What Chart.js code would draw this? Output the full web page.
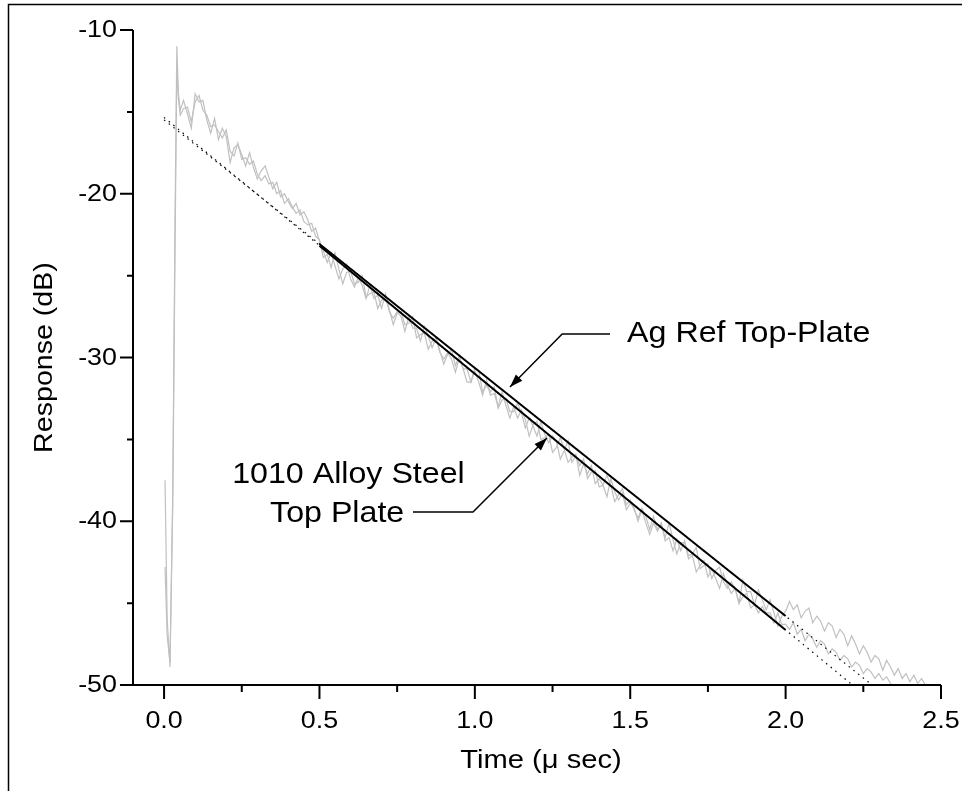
<!DOCTYPE html>
<html>
<head>
<meta charset="UTF-8">
<title>Response vs Time</title>
<script src="https://cdn.jsdelivr.net/npm/chart.js"></script>
<style>
    body { margin: 0; background: #fff; }
    #wrap { width: 962px; height: 791px; }
</style>
</head>
<body>
<div id="wrap"><canvas id="grafico" width="962" height="791"></canvas></div>
<script>
// time axis (micro seconds) shared by the two measured traces
const times = [0.003, 0.01, 0.019, 0.028, 0.035, 0.041, 0.046, 0.052,
    0.0625, 0.075, 0.0875, 0.1, 0.1125, 0.125, 0.1375, 0.15, 0.1625, 0.175, 0.1875, 0.2,
    0.2125, 0.225, 0.2375, 0.25, 0.2625, 0.275, 0.2875, 0.3, 0.3125, 0.325, 0.3375, 0.35,
    0.3625, 0.375, 0.3875, 0.4, 0.4125, 0.425, 0.4375, 0.45, 0.4625, 0.475, 0.4875, 0.5,
    0.5125, 0.525, 0.5375, 0.55, 0.5625, 0.575, 0.5875, 0.6, 0.6125, 0.625, 0.6375, 0.65,
    0.6625, 0.675, 0.6875, 0.7, 0.7125, 0.725, 0.7375, 0.75, 0.7625, 0.775, 0.7875, 0.8,
    0.8125, 0.825, 0.8375, 0.85, 0.8625, 0.875, 0.8875, 0.9, 0.9125, 0.925, 0.9375, 0.95,
    0.9625, 0.975, 0.9875, 1.0,
    1.0125, 1.025, 1.0375, 1.05, 1.0625, 1.075, 1.0875, 1.1, 1.1125, 1.125, 1.1375, 1.15,
    1.1625, 1.175, 1.1875, 1.2, 1.2125, 1.225, 1.2375, 1.25, 1.2625, 1.275, 1.2875, 1.3,
    1.3125, 1.325, 1.3375, 1.35, 1.3625, 1.375, 1.3875, 1.4, 1.4125, 1.425, 1.4375, 1.45,
    1.4625, 1.475, 1.4875, 1.5,
    1.5125, 1.525, 1.5375, 1.55, 1.5625, 1.575, 1.5875, 1.6, 1.6125, 1.625, 1.6375, 1.65,
    1.6625, 1.675, 1.6875, 1.7, 1.7125, 1.725, 1.7375, 1.75, 1.7625, 1.775, 1.7875, 1.8,
    1.8125, 1.825, 1.8375, 1.85, 1.8625, 1.875, 1.8875, 1.9, 1.9125, 1.925, 1.9375, 1.95,
    1.9625, 1.975, 1.9875, 2.0,
    2.0125, 2.025, 2.0375, 2.05, 2.0625, 2.075, 2.0875, 2.1, 2.1125, 2.125, 2.1375, 2.15,
    2.1625, 2.175, 2.1875, 2.2, 2.2125, 2.225, 2.2375, 2.25, 2.2625, 2.275, 2.2875, 2.3,
    2.3125, 2.325, 2.3375, 2.35, 2.3625, 2.375, 2.3875, 2.4, 2.4125, 2.425, 2.4375, 2.45];

// Ag reference top plate, measured (dB)
const agTrace = [-37.5, -46, -48.9, -38, -22, -11.0, -13.8, -14.9,
    -14.3, -15.1, -16.0, -13.9, -14.4, -14.3, -15.5, -16.3, -15.4, -16.7, -16.0, -16.5,
    -18.1, -17.2, -17.0, -17.6, -18.3, -17.5, -18.4, -19.1, -18.6, -18.3, -19.0, -19.7,
    -19.3, -20.2, -20.0, -20.5, -20.9, -20.6, -21.3, -21.1, -21.6, -22.3, -22.1, -22.9,
    -23.5, -24.2, -23.6, -24.4, -25.2, -24.6, -24.3, -25.2, -25.7, -25.1, -25.6, -26.4,
    -25.6, -26.4, -26.2, -27.0, -26.1, -27.1, -28.0, -27.3, -27.2, -28.0, -27.9, -27.5,
    -28.8, -28.6, -28.5, -29.5, -29.0, -28.8, -29.7, -30.1, -29.7, -30.1, -30.9, -30.0,
    -30.7, -30.7, -31.5, -30.6,
    -30.8, -32.1, -31.7, -32.1, -31.8, -33.1, -32.6, -32.5, -33.3, -33.3, -32.8, -33.4,
    -34.3, -33.7, -34.2, -34.8, -33.9, -34.7, -35.2, -34.8, -35.1, -36.2, -35.7, -35.1,
    -36.4, -36.0, -36.6, -36.2, -37.4, -37.0, -36.9, -37.9, -37.8, -37.2, -37.8, -38.8,
    -38.4, -38.0, -39.0, -38.7,
    -39.3, -39.8, -39.2, -39.7, -40.5, -39.7, -40.5, -40.2, -41.0, -40.1, -41.1, -42.0,
    -41.3, -41.3, -42.1, -42.0, -41.6, -42.9, -42.7, -42.6, -43.5, -43.0, -42.8, -43.7,
    -44.1, -43.7, -44.1, -45.0, -43.6, -44.3, -44.3, -45.1, -44.2, -44.8, -45.4, -44.8,
    -45.6, -46.4, -45.8, -45.5,
    -44.9, -45.4, -45.1, -45.9, -45.5, -45.3, -46.2, -45.8, -46.1, -46.7, -46.2, -46.4,
    -47.1, -46.6, -46.9, -47.6, -47.0, -47.5, -48.1, -47.6, -48.0, -48.6, -48.2, -48.4,
    -49.1, -48.5, -48.9, -49.4, -49.0, -49.6, -49.3, -49.8, -49.4, -49.9, -49.6, -50.0];

// 1010 alloy steel top plate, measured (dB)
const steelTrace = [-42.8, -47, -48.6, -39, -24, -12.2, -14.2, -15.2,
    -14.8, -14.7, -15.6, -14.4, -14.0, -14.9, -15.2, -15.9, -15.8, -16.2, -16.6, -16.1,
    -17.4, -17.7, -16.9, -17.9, -17.8, -18.2, -18.0, -18.8, -19.2, -18.9, -19.4, -19.3,
    -20.0, -19.8, -20.6, -20.3, -20.8, -21.2, -21.0, -21.7, -21.9, -21.8, -22.6, -22.8,
    -23.9, -23.7, -24.5, -23.6, -24.6, -25.5, -24.8, -24.7, -25.5, -25.4, -25.0, -26.3,
    -26.1, -26.0, -27.0, -26.5, -26.3, -27.2, -27.6, -27.2, -27.5, -28.4, -27.5, -28.2,
    -28.2, -29.0, -28.1, -28.7, -29.4, -28.8, -29.6, -30.4, -29.8, -29.5, -30.5, -29.9,
    -30.7, -31.5, -31.5, -30.8,
    -31.5, -32.3, -31.4, -32.3, -32.2, -33.0, -32.1, -32.9, -33.7, -33.0, -33.7, -33.2,
    -33.8, -34.8, -34.1, -33.9, -35.0, -34.9, -34.7, -35.8, -35.5, -34.9, -35.6, -36.4,
    -36.1, -35.9, -37.2, -36.5, -37.1, -36.6, -37.7, -37.4, -37.8, -38.5, -37.4, -38.2,
    -38.7, -38.3, -39.3, -38.9,
    -39.2, -40.0, -39.3, -40.1, -40.8, -40.1, -40.6, -40.1, -41.2, -41.0, -41.8, -41.1,
    -41.8, -41.2, -42.3, -42.1, -43.1, -42.7, -42.4, -43.4, -42.9, -43.5, -44.1, -43.2,
    -43.9, -44.4, -44.1, -45.0, -44.6, -44.4, -45.3, -45.1, -45.6, -45.2, -45.6, -45.6,
    -46.2, -45.6, -46.3, -46.3,
    -46.6, -46.2, -46.9, -46.6, -47.3, -46.9, -47.2, -47.7, -47.3, -47.5, -48.1, -47.8,
    -48.0, -48.5, -48.2, -48.4, -48.9, -48.6, -48.8, -49.3, -49.0, -49.2, -49.6, -49.3,
    -49.7, -49.5, -49.9, -50.1, null, null, null, null, null, null, null, null];

// linear fits (solid over the fit range, dotted extrapolation)
const agFitX = [0.5, 2.0];
const agFitY = [-23.07, -45.79];
const steelFitX = [0.5, 2.0];
const steelFitY = [-23.17, -46.64];
const agExtX = [0.0, 2.278];
const agExtY = [-15.49, -50.0];
const steelExtX = [0.0, 2.215];
const steelExtY = [-15.34, -50.0];

// axes
const xMajor = [0, 0.5, 1.0, 1.5, 2.0, 2.5];
const xLabels = ["0.0", "0.5", "1.0", "1.5", "2.0", "2.5"];
const xMinor = [0.25, 0.75, 1.25, 1.75, 2.25];
const yMajor = [-50, -40, -30, -20, -10];
const yLabels = ["-50", "-40", "-30", "-20", "-10"];
const yMinor = [-45, -35, -25, -15];

function puntos(xs, ys) {
    return xs.map((x, i) => ({ x: x, y: ys[i] }));
}

// stretched text like the original export
function texto(ctx, str, x, y, size, align, sx) {
    ctx.save();
    ctx.font = size + "px 'Liberation Sans', Arial, sans-serif";
    ctx.textAlign = align;
    ctx.translate(x, y);
    ctx.scale(sx || 1.1, 1);
    ctx.fillText(str, 0, 0);
    ctx.restore();
}

function flecha(ctx, pts) {
    ctx.beginPath();
    ctx.moveTo(pts[0][0], pts[0][1]);
    for (let i = 1; i < pts.length; i++) ctx.lineTo(pts[i][0], pts[i][1]);
    ctx.stroke();
    const [x1, y1] = pts[pts.length - 2];
    const [x2, y2] = pts[pts.length - 1];
    const ang = Math.atan2(y2 - y1, x2 - x1);
    const L = 13, W = 4.5;
    ctx.beginPath();
    ctx.moveTo(x2, y2);
    ctx.lineTo(x2 - L * Math.cos(ang) + W * Math.sin(ang), y2 - L * Math.sin(ang) - W * Math.cos(ang));
    ctx.lineTo(x2 - L * Math.cos(ang) - W * Math.sin(ang), y2 - L * Math.sin(ang) + W * Math.cos(ang));
    ctx.closePath();
    ctx.fill();
}

const ejes = {
    id: "ejes",
    afterDatasetsDraw(chart) {
        const { ctx, chartArea: a, scales: { x, y } } = chart;
        ctx.save();
        ctx.strokeStyle = "#000";
        ctx.fillStyle = "#000";

        // outer frame
        ctx.lineWidth = 1.5;
        ctx.beginPath();
        ctx.moveTo(8.5, 791);
        ctx.lineTo(8.5, 4.5);
        ctx.lineTo(962, 4.5);
        ctx.stroke();

        // axis lines
        ctx.lineWidth = 2;
        ctx.beginPath();
        ctx.moveTo(a.left, a.top);
        ctx.lineTo(a.left, a.bottom);
        ctx.lineTo(a.right, a.bottom);
        ctx.stroke();

        // x ticks
        ctx.beginPath();
        xMajor.forEach(v => { const p = x.getPixelForValue(v); ctx.moveTo(p, a.bottom); ctx.lineTo(p, a.bottom + 14); });
        xMinor.forEach(v => { const p = x.getPixelForValue(v); ctx.moveTo(p, a.bottom); ctx.lineTo(p, a.bottom + 7); });
        // y ticks
        yMajor.forEach(v => { const p = y.getPixelForValue(v); ctx.moveTo(a.left - 13, p); ctx.lineTo(a.left, p); });
        yMinor.forEach(v => { const p = y.getPixelForValue(v); ctx.moveTo(a.left - 6, p); ctx.lineTo(a.left, p); });
        ctx.stroke();

        // tick labels
        ctx.textBaseline = "alphabetic";
        xMajor.forEach((v, i) => texto(ctx, xLabels[i], x.getPixelForValue(v), a.bottom + 43, 24, "center", 1.12));
        yMajor.forEach((v, i) => texto(ctx, yLabels[i], a.left - 16, y.getPixelForValue(v) + 7, 24, "right", 1.12));

        // axis titles
        texto(ctx, "Time (\u03bc sec)", (a.left + a.right) / 2 + 4, 768, 26, "center", 1.12);
        ctx.save();
        ctx.translate(52, (a.top + a.bottom) / 2);
        ctx.rotate(-Math.PI / 2);
        texto(ctx, "Response (dB)", 0, 0, 26, "center", 1.1);
        ctx.restore();

        // annotations
        texto(ctx, "Ag Ref Top-Plate", x.getPixelForValue(1.49), y.getPixelForValue(-29.05), 29, "left", 1.11);
        texto(ctx, "1010 Alloy Steel", x.getPixelForValue(0.219), y.getPixelForValue(-37.66), 29, "left", 1.11);
        texto(ctx, "Top Plate", x.getPixelForValue(0.341), y.getPixelForValue(-40.05), 29, "left", 1.11);

        ctx.lineWidth = 1.5;
        flecha(ctx, [
            [x.getPixelForValue(1.435), y.getPixelForValue(-28.56)],
            [x.getPixelForValue(1.281), y.getPixelForValue(-28.56)],
            [x.getPixelForValue(1.113), y.getPixelForValue(-31.80)]
        ]);
        flecha(ctx, [
            [x.getPixelForValue(0.801), y.getPixelForValue(-39.44)],
            [x.getPixelForValue(0.994), y.getPixelForValue(-39.44)],
            [x.getPixelForValue(1.232), y.getPixelForValue(-34.92)]
        ]);
        ctx.restore();
    }
};

const ctx = document.getElementById("grafico").getContext("2d");
new Chart(ctx, {
    type: "scatter",
    data: {
        datasets: [
            { data: puntos(agFitX, agFitY), showLine: true, borderColor: "#000", borderWidth: 2, pointRadius: 0 },
            { data: puntos(steelFitX, steelFitY), showLine: true, borderColor: "#000", borderWidth: 2, pointRadius: 0 },
            { data: puntos(agExtX, agExtY), showLine: true, borderColor: "#000", borderWidth: 1.2, borderDash: [1.5, 4.5], pointRadius: 0 },
            { data: puntos(steelExtX, steelExtY), showLine: true, borderColor: "#000", borderWidth: 1.2, borderDash: [1.5, 4.5], pointRadius: 0 },
            { data: puntos(times, agTrace), showLine: true, borderColor: "#c0c0c0", borderWidth: 1.2, pointRadius: 0, spanGaps: false },
            { data: puntos(times, steelTrace), showLine: true, borderColor: "#c0c0c0", borderWidth: 1.2, pointRadius: 0, spanGaps: false }
        ]
    },
    options: {
        responsive: false,
        animation: false,
        layout: { padding: { left: 0, right: 21, top: 30, bottom: 0 } },
        plugins: { legend: { display: false }, tooltip: { enabled: false } },
        scales: {
            x: {
                type: "linear", min: -0.1, max: 2.5,
                grid: { display: false }, border: { display: false },
                ticks: { display: false },
                afterFit: s => { s.height = 106; }
            },
            y: {
                type: "linear", min: -50, max: -10,
                grid: { display: false }, border: { display: false },
                ticks: { display: false },
                afterFit: s => { s.width = 133; }
            }
        }
    },
    plugins: [ejes]
});
</script>
</body>
</html>
